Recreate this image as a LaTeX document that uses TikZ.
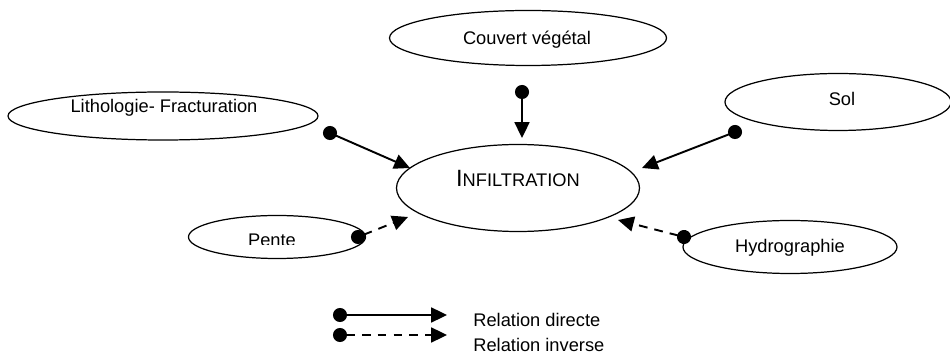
\documentclass[tikz,border=0pt]{standalone}
\usepackage{fontspec}
\setmainfont{Liberation Sans}
\usetikzlibrary{shapes.geometric,arrows.meta}
\tikzset{line/.style={draw, line width=1.1pt, shorten <=-4pt, {Circle[length=8pt]}-{Triangle[length=9pt,width=8.5pt]}}}
\tikzset{inverse/.style={line, dash pattern=on 5pt off 4pt}}

\begin{document}
\begin{tikzpicture}[x=0.02cm,y=-0.02cm]
\tikzstyle{factor} = [ellipse, draw, line width=0.7pt, inner sep=0pt]
\tikzstyle{txt} = [inner sep=0pt, anchor=base, font=\fontsize{10.4}{12}\selectfont]
\useasboundingbox (0,0) rectangle (950,354);

% ellipses
    \node [factor, minimum width=243*0.02cm, minimum height=87*0.02cm] (infil) at (518,188) {};
    \node [txt] (infil text) at (518,187) {\fontsize{13.4}{14}\selectfont I\fontsize{10.4}{12}\selectfont NFILTRATION};
    % couvert
    \node [factor, minimum width=277*0.02cm, minimum height=55*0.02cm] (couvert) at (528,38) {};
    \node [txt] (couvert text) at (527,45) {Couvert végétal};
    % litho
    \node [factor, minimum width=310*0.02cm, minimum height=48*0.02cm] (litho) at (163,116) {};
    \node [txt] (litho text) at (164,113) {Lithologie- Fracturation};
    % sol
    \node [factor, minimum width=226*0.02cm, minimum height=57*0.02cm] (sol) at (838,102) {};
    \node [txt] (sol text) at (842,106) {Sol};
    % pente
    \node [factor, minimum width=177*0.02cm, minimum height=43*0.02cm] (pente) at (277,237) {};
    \begin{scope}
    \clip (200,220) rectangle (350,245);
    \node [txt] (pente text) at (272,247) {Pente};
    \end{scope}
    % hydro
    \node [factor, minimum width=214*0.02cm, minimum height=53*0.02cm] (hydro) at (790,247) {};
    \node [txt] (hydro text) at (790,253) {Hydrographie};

% arrow ends
    \coordinate (couvert dot) at (522,92);
    \coordinate (couvert tip) at (522,138);
    \coordinate (litho dot) at (330,133);
    \coordinate (litho tip) at (410,168);
    \coordinate (sol dot) at (735,132);
    \coordinate (sol tip) at (642,168);
    \coordinate (pente dot) at (358,237);
    \coordinate (pente tip) at (408,217);
    \coordinate (hydro dot) at (684,237);
    \coordinate (hydro tip) at (618,220);

% arrows
    \path [line] (couvert dot) -- (couvert tip);
    \path [line] (litho dot) -- (litho tip);
    \path [line] (sol dot) -- (sol tip);
    \path [inverse] (pente dot) -- (pente tip);
    \path [inverse] (hydro dot) -- (hydro tip);

% legend
    \coordinate (direct dot) at (340,315);
    \coordinate (direct tip) at (447,315);
    \coordinate (inverse dot) at (340,335);
    \coordinate (inverse tip) at (447,335);
    \path [line] (direct dot) -- (direct tip);
    \path [inverse] (inverse dot) -- (inverse tip);
    \node [txt, anchor=base west] (direct text) at (473,327) {Relation directe};
    \node [txt, anchor=base west] (inverse text) at (473,352) {Relation inverse};
\end{tikzpicture}
\end{document}
